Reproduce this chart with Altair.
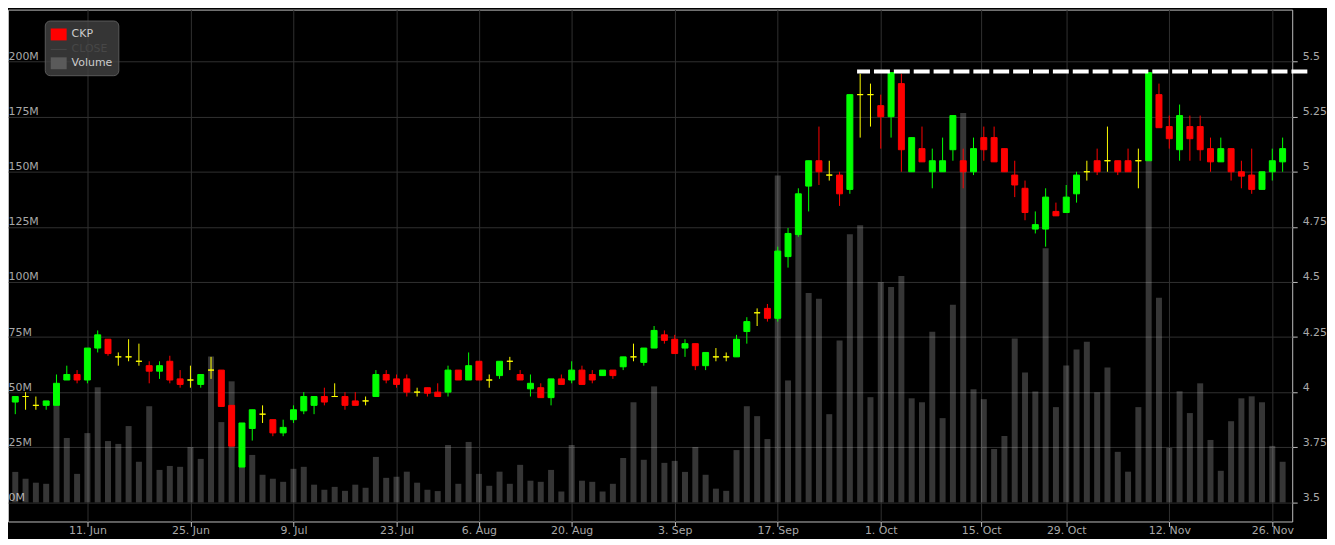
import altair as alt
import pandas as pd

# ---- data (one candle per trading day) ----
opens = [3.955, 3.98, 3.94, 3.94, 3.94, 4.055, 4.08, 4.055, 4.20, 4.24,
         4.16, 4.16, 4.14, 4.12, 4.095, 4.14, 4.06, 4.055, 4.035, 4.10,
         4.10, 3.94, 3.66, 3.835, 3.90, 3.875, 3.815, 3.875, 3.915, 3.94,
         3.98, 3.98, 3.98, 3.96, 3.96, 3.98, 4.08, 4.06, 4.06, 4.00,
         4.02, 4.00, 4.00, 4.10, 4.055, 4.14, 4.055, 4.075, 4.14, 4.08,
         4.015, 4.02, 3.975, 4.06, 4.055, 4.10, 4.08, 4.075, 4.10, 4.115,
         4.16, 4.135, 4.20, 4.26, 4.24, 4.20, 4.22, 4.12, 4.16, 4.16,
         4.16, 4.275, 4.36, 4.38, 4.335, 4.615, 4.715, 4.935, 5.05, 4.985,
         4.985, 4.92, 5.35, 5.35, 5.30, 5.25, 5.40, 5.00, 5.105, 5.00,
         5.00, 5.10, 5.05, 5.00, 5.155, 5.155, 5.105, 4.985, 4.925, 4.74,
         4.74, 4.82, 4.815, 4.90, 5.00, 5.05, 5.05, 5.05, 5.05, 5.05,
         5.05, 5.35, 5.205, 5.10, 5.205, 5.205, 5.105, 5.045, 5.105, 5.00,
         4.985, 4.92, 5.00, 5.045]
highs = [3.98, 4.00, 3.98, 3.96, 4.08, 4.12, 4.10, 4.20, 4.28, 4.24,
         4.18, 4.24, 4.22, 4.14, 4.14, 4.165, 4.10, 4.12, 4.08, 4.16,
         4.10, 3.94, 3.86, 3.92, 3.94, 3.875, 3.875, 3.94, 4.00, 3.98,
         4.02, 4.04, 4.00, 4.00, 3.98, 4.10, 4.10, 4.08, 4.08, 4.02,
         4.02, 4.04, 4.12, 4.10, 4.18, 4.14, 4.08, 4.14, 4.16, 4.10,
         4.08, 4.04, 4.06, 4.08, 4.14, 4.12, 4.10, 4.10, 4.10, 4.16,
         4.22, 4.20, 4.30, 4.28, 4.26, 4.24, 4.22, 4.18, 4.20, 4.18,
         4.26, 4.34, 4.38, 4.40, 4.66, 4.745, 4.925, 5.05, 5.205, 5.05,
         5.00, 5.35, 5.445, 5.40, 5.35, 5.45, 5.445, 5.155, 5.205, 5.105,
         5.155, 5.255, 5.105, 5.155, 5.205, 5.205, 5.105, 5.05, 4.96, 4.82,
         4.925, 4.86, 4.94, 5.00, 5.05, 5.105, 5.205, 5.05, 5.105, 5.105,
         5.45, 5.40, 5.255, 5.305, 5.255, 5.255, 5.155, 5.155, 5.105, 5.05,
         5.105, 5.00, 5.105, 5.155]
lows = [3.90, 3.92, 3.92, 3.92, 3.94, 4.055, 4.04, 4.04, 4.18, 4.165,
        4.12, 4.14, 4.12, 4.04, 4.06, 4.04, 4.02, 4.02, 4.02, 4.06,
        3.935, 3.755, 3.66, 3.78, 3.86, 3.80, 3.80, 3.86, 3.90, 3.90,
        3.94, 3.98, 3.92, 3.94, 3.94, 3.98, 4.04, 4.02, 3.98, 3.98,
        3.98, 3.98, 3.98, 4.055, 4.055, 4.055, 4.02, 4.06, 4.10, 4.055,
        3.98, 3.975, 3.94, 4.035, 4.04, 4.035, 4.04, 4.075, 4.06, 4.10,
        4.14, 4.12, 4.20, 4.22, 4.175, 4.16, 4.10, 4.10, 4.14, 4.14,
        4.16, 4.22, 4.30, 4.32, 4.32, 4.565, 4.705, 4.82, 4.94, 4.96,
        4.845, 4.90, 5.155, 5.205, 5.105, 5.155, 5.00, 5.00, 5.045, 4.925,
        5.00, 5.05, 4.925, 4.985, 5.05, 5.045, 5.00, 4.885, 4.78, 4.72,
        4.66, 4.80, 4.815, 4.86, 4.96, 4.985, 5.00, 4.985, 5.00, 4.925,
        5.05, 5.20, 5.105, 5.05, 5.05, 5.05, 5.00, 5.045, 4.96, 4.925,
        4.90, 4.92, 4.96, 5.00]
closes = [3.98, 3.98, 3.94, 3.96, 4.04, 4.08, 4.055, 4.20, 4.26, 4.175,
          4.16, 4.16, 4.14, 4.095, 4.12, 4.055, 4.035, 4.055, 4.08, 4.10,
          3.935, 3.755, 3.86, 3.92, 3.90, 3.815, 3.84, 3.92, 3.98, 3.98,
          3.955, 3.98, 3.94, 3.94, 3.96, 4.08, 4.055, 4.035, 4.00, 4.00,
          3.995, 3.98, 4.10, 4.055, 4.12, 4.055, 4.055, 4.14, 4.14, 4.055,
          4.04, 3.975, 4.06, 4.035, 4.10, 4.035, 4.055, 4.10, 4.075, 4.16,
          4.16, 4.20, 4.28, 4.235, 4.175, 4.22, 4.12, 4.18, 4.16, 4.16,
          4.24, 4.32, 4.36, 4.335, 4.64, 4.72, 4.90, 5.05, 5.00, 4.985,
          4.90, 5.35, 5.35, 5.35, 5.25, 5.45, 5.10, 5.155, 5.045, 5.05,
          5.05, 5.255, 5.00, 5.105, 5.10, 5.045, 5.00, 4.94, 4.815, 4.76,
          4.885, 4.80, 4.885, 4.985, 5.00, 5.00, 5.05, 5.00, 5.00, 5.05,
          5.45, 5.20, 5.15, 5.255, 5.15, 5.10, 5.045, 5.105, 5.00, 4.98,
          4.92, 5.00, 5.05, 5.105]
volumes_m = [13.8, 10.7, 8.9, 8.4, 44.0, 29.2, 12.9, 31.4, 52.2, 27.8,
             26.5, 34.6, 18.4, 43.6, 14.7, 16.5, 16.1, 25.1, 19.7, 66.2,
             36.4, 54.9, 21.0, 21.5, 12.5, 10.7, 9.3, 15.2, 16.1, 8.0,
             5.7, 7.0, 5.2, 8.0, 6.6, 20.6, 11.1, 11.6, 13.9, 8.9,
             5.7, 5.1, 26.0, 8.4, 27.4, 12.9, 7.5, 13.9, 8.4, 17.0,
             9.8, 9.3, 14.7, 4.9, 26.0, 9.8, 9.3, 4.9, 8.4, 20.1,
             45.4, 19.3, 52.6, 17.9, 18.8, 13.8, 25.1, 12.5, 6.2, 5.2,
             23.7, 43.6, 39.1, 28.7, 148.3, 55.3, 122.0, 95.0, 92.4, 40.0,
             73.4, 121.7, 125.7, 47.7, 100.0, 97.7, 102.7, 47.2, 45.4, 77.4,
             38.2, 89.6, 176.7, 51.3, 46.8, 24.2, 30.1, 74.3, 58.9, 50.3,
             115.3, 43.2, 62.1, 69.3, 72.9, 49.9, 61.2, 22.9, 13.9, 43.2,
             180.0, 92.8, 24.7, 50.4, 40.5, 54.0, 28.3, 14.3, 36.8, 47.2,
             48.1, 45.4, 25.6, 18.4]

tick_index = [7, 17, 27, 37, 45, 54, 64, 74, 84, 93.75, 102, 112, 122]
tick_labels = ["11. Jun", "25. Jun", "9. Jul", "23. Jul", "6. Aug", "20. Aug",
               "3. Sep", "17. Sep", "1. Oct", "15. Oct", "29. Oct", "12. Nov",
               "26. Nov"]
volume_ticks = [0, 25, 50, 75, 100, 125, 150, 175, 200]
price_ticks = [3.5, 3.75, 4.0, 4.25, 4.5, 4.75, 5.0, 5.25, 5.5]
legend_items = ["CKP", "CLOSE", "Volume"]
resistance_level = [5.455]
resistance_start = [81.7]

# ---- styling ----
UP, DOWN, FLAT = "#00ff00", "#ff0000", "#ffff00"
GRID = "#303030"
FRAME = "#bdbdbd"
LABEL = "#a8a8a8"
FONT = "DejaVu Sans"
W, H = 1292, 515

df = pd.DataFrame({
    "i": list(range(len(opens))),
    "open": opens, "high": highs, "low": lows, "close": closes,
    "volume": volumes_m,
})
df["base"] = 0
df["col"] = [UP if c > o else (DOWN if c < o else FLAT) for o, c in zip(opens, closes)]

x_scale = alt.Scale(domain=[-0.223, 123.449], nice=False, zero=False)
price_scale = alt.Scale(domain=[3.4129, 5.7359], nice=False, zero=False)
vol_scale = alt.Scale(domain=[-8.705, 223.59], nice=False, zero=False)

label_expr = ("[" + ",".join("'%s'" % s for s in tick_labels) + "][indexof(["
              + ",".join(str(v) for v in tick_index) + "], datum.value)]")

x_axis = alt.Axis(values=tick_index, labelExpr=label_expr, grid=True, gridColor=GRID,
                  tickColor=FRAME, tickSize=5, domain=False, labelColor=LABEL,
                  labelFont=FONT, labelFontSize=11, labelPadding=-2, labelBaseline="top",
                  title=None, labelFlush=False, labelOverlap=False)
vol_axis = alt.Axis(orient="left", values=volume_ticks, labelExpr="datum.value + 'M'",
                    grid=True, gridColor=GRID, tickColor=FRAME, tickSize=5, domain=False,
                    labelAlign="left", labelBaseline="alphabetic", labelPadding=-5,
                    labelOffset=-2, labelColor=LABEL, labelFont=FONT, labelFontSize=11,
                    title=None)
price_axis = alt.Axis(orient="right", values=price_ticks, labelExpr="'' + datum.value",
                      grid=False, tickColor=FRAME, tickSize=5, domain=False,
                      labelAlign="left", labelBaseline="alphabetic", labelPadding=5,
                      labelOffset=-2, labelColor=LABEL, labelFont=FONT, labelFontSize=11,
                      title=None)

vol = alt.Chart(df).mark_bar(size=6, color="#ffffff", opacity=0.21).encode(
    x=alt.X("i:Q", scale=x_scale, axis=x_axis),
    y=alt.Y("volume:Q", scale=vol_scale, axis=vol_axis),
    y2="base:Q",
)

wick = alt.Chart(df).mark_rule(strokeWidth=1).encode(
    x=alt.X("i:Q", scale=x_scale, axis=x_axis),
    y=alt.Y("low:Q", scale=price_scale, axis=price_axis),
    y2="high:Q",
    color=alt.Color("col:N", scale=None),
)

body = alt.Chart(df).mark_bar(size=6, strokeWidth=1).encode(
    x=alt.X("i:Q", scale=x_scale, axis=x_axis),
    y=alt.Y("open:Q", scale=price_scale, axis=price_axis),
    y2="close:Q",
    color=alt.Color("col:N", scale=None),
    stroke=alt.Stroke("col:N", scale=None),
)

res_df = pd.DataFrame({"start": resistance_start, "level": resistance_level})
dash = alt.Chart(res_df).mark_rule(color="#ffffff", strokeWidth=4, strokeDash=[16, 4],
                                   strokeDashOffset=3, clip=False).encode(
    x=alt.X("start:Q", scale=x_scale, axis=x_axis),
    x2=alt.value(W + 17),
    y=alt.Y("level:Q", scale=price_scale, axis=price_axis),
)

RECT = "M-1,-0.75H1V0.75H-1Z"
THIN = "M-1,-0.06H1V0.06H-1Z"
leg = alt.Legend(orient="none", legendX=37, legendY=11, title=None,
                 fillColor="rgba(66,66,66,0.8)", strokeColor="#5a5a5a", cornerRadius=5,
                 padding=6, rowPadding=1, labelFont=FONT, labelFontSize=11,
                 labelColor=alt.ExprRef("datum.label === 'CLOSE' ? '#474747' : '#cccccc'"),
                 labelOffset=5, symbolSize=256, symbolStrokeWidth=0, symbolOpacity=1)
leg_df = pd.DataFrame({"series": legend_items})
legend_layer = alt.Chart(leg_df).mark_point(filled=True, clip=True).encode(
    x=alt.value(-60), y=alt.value(-60),
    color=alt.Color("series:N", sort=legend_items,
                    scale=alt.Scale(domain=legend_items, range=["#ff0000", "#4a4a4a", "#5a5a5a"]),
                    legend=leg),
    shape=alt.Shape("series:N", sort=legend_items,
                    scale=alt.Scale(domain=legend_items, range=[RECT, THIN, RECT]),
                    legend=leg),
)

price_layer = alt.layer(wick, body, dash)

chart = alt.layer(vol, price_layer, legend_layer).resolve_scale(
    y="independent"
).properties(
    width=W, height=H, autosize="none",
    padding={"left": 0, "top": 0, "right": 35, "bottom": 16},
    background="#000000",
).configure_view(stroke=FRAME, strokeWidth=1)

chart.save("out.html", embed_options={"renderer": "svg", "actions": False})
